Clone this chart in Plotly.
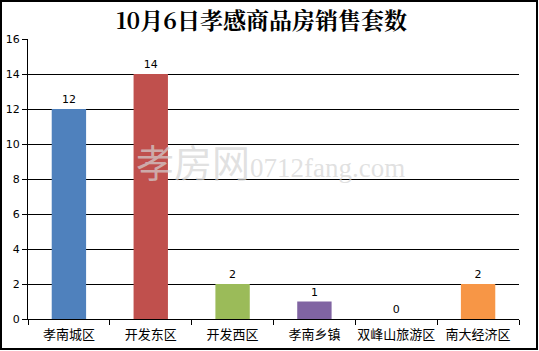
import plotly.graph_objects as go

categories = ["孝南城区", "开发东区", "开发西区", "孝南乡镇", "双峰山旅游区", "南大经济区"]
values = [12, 14, 2, 1, 0, 2]
colors = ["#4F81BD", "#C0504D", "#9BBB59", "#8064A2", "#4BACC6", "#F79646"]
y_ticks = [0, 2, 4, 6, 8, 10, 12, 14, 16]
title_text = "10月6日孝感商品房销售套数"

W, H = 539, 351
L, R, T, B = 28, 20, 39, 32
pw, ph = W - L - R, H - T - B

fig = go.Figure()
fig.add_trace(go.Bar(
    x=categories, y=values, marker=dict(color=colors, line=dict(width=0)),
    width=0.42, text=[str(v) for v in values], textposition="outside",
    textfont=dict(family="DejaVu Sans, Noto Sans CJK SC", size=11, color="black"),
    cliponaxis=False,
))

# watermark
fig.add_annotation(
    xref="paper", yref="paper",
    x=(270 - L) / pw, y=(H - B - 160) / ph,
    text="<span style='font-size:38px'>孝房网</span><span style='font-family:Liberation Serif;font-size:27px'>0712fang.com</span>",
    showarrow=False, font=dict(family="Noto Sans CJK SC", color="rgba(212,212,212,0.7)", size=27),
)

# outer border
fig.add_shape(type="rect", xref="paper", yref="paper",
              x0=(1 - L) / pw, x1=(W - 2 - L) / pw,
              y0=(H - B - (H - 2)) / ph, y1=(H - B - 1) / ph,
              line=dict(color="black", width=2), fillcolor="rgba(0,0,0,0)", layer="above")

fig.update_layout(
    width=W, height=H,
    margin=dict(l=L, r=R, t=T, b=B, autoexpand=False),
    paper_bgcolor="white", plot_bgcolor="white",
    showlegend=False,
    title=dict(text="<b>" + title_text + "</b>", x=0.485, xanchor="center", y=0.94, yanchor="middle",
               font=dict(family="Noto Serif CJK SC, Liberation Serif, Noto Sans CJK SC", size=23, color="black")),
    font=dict(family="Noto Sans CJK SC", size=12, color="black"),
    bargap=0.58,
)
fig.update_xaxes(
    type="category", showline=True, linecolor="black", linewidth=1,
    ticks="outside", tickson="boundaries", ticklen=5, tickcolor="black",
    showgrid=False, tickfont=dict(family="Noto Sans CJK SC", size=13, color="black"),
    tickangle=0, automargin=False, ticklabelstandoff=3, mirror=False,
)
fig.update_yaxes(
    range=[0, 16], tickvals=y_ticks, ticktext=[str(v) for v in y_ticks],
    showline=True, linecolor="black", linewidth=1,
    ticks="outside", ticklen=5, tickcolor="black",
    showgrid=True, gridcolor="black", gridwidth=1, zeroline=False, automargin=False,
    tickfont=dict(family="DejaVu Sans", size=11, color="black"),
)

fig.write_html("out.html")
